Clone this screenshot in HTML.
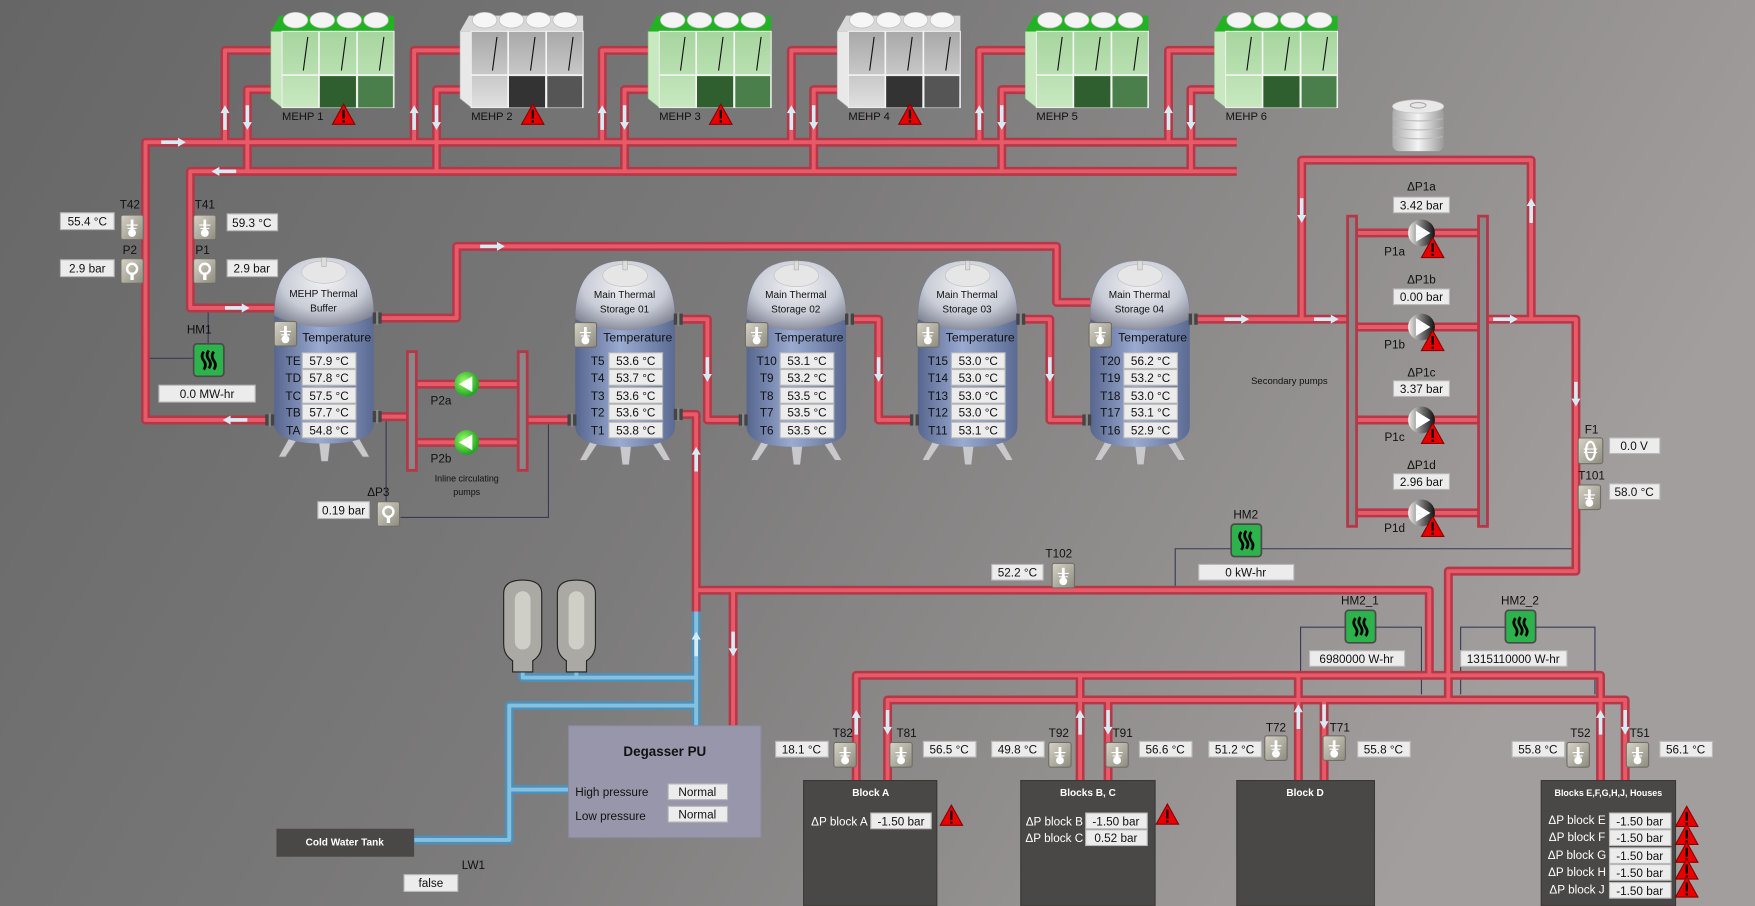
<!DOCTYPE html>
<html><head><meta charset="utf-8"><style>
html,body{margin:0;padding:0;width:1755px;height:906px;overflow:hidden;background:#7a7a7a}
svg{display:block}
text{font-family:"Liberation Sans Narrow","Liberation Sans",sans-serif;font-size:10.5px;fill:#111}
.v{fill:#ececec;stroke:#b8b8b8;stroke-width:1}
.c{text-anchor:middle}
.w{fill:#fff;font-weight:bold;font-size:9px}
</style></head><body>
<svg width="1755" height="906" viewBox="0 0 1568 809" preserveAspectRatio="none" xmlns="http://www.w3.org/2000/svg">
<defs>
<linearGradient id="bg" x1="0" x2="1" y1="0" y2="0.3"><stop offset="0" stop-color="#666"/><stop offset="0.5" stop-color="#7c7b7b"/><stop offset="1" stop-color="#a29e9d"/></linearGradient>
<linearGradient id="tb" x1="0" x2="1"><stop offset="0" stop-color="#56668e"/><stop offset="0.45" stop-color="#9aaad0"/><stop offset="1" stop-color="#5a6a92"/></linearGradient>
<radialGradient id="dome" cx="0.5" cy="0.35" r="0.7"><stop offset="0" stop-color="#f2f2f4"/><stop offset="0.6" stop-color="#c8ccd6"/><stop offset="1" stop-color="#7d8090"/></radialGradient>
<linearGradient id="beige" x1="0" y1="0" x2="1" y2="1"><stop offset="0" stop-color="#d6d3c6"/><stop offset="1" stop-color="#8d8a7f"/></linearGradient>
<radialGradient id="gp" cx="0.4" cy="0.4" r="0.6"><stop offset="0" stop-color="#9dff6a"/><stop offset="1" stop-color="#1fa51f"/></radialGradient>
<linearGradient id="kp" x1="0" x2="1"><stop offset="0" stop-color="#eee"/><stop offset="0.5" stop-color="#777"/><stop offset="1" stop-color="#111"/></linearGradient>
<linearGradient id="gbody" x1="0" x2="0" y1="0" y2="1"><stop offset="0" stop-color="#a6d59e"/><stop offset="1" stop-color="#c8e8c0"/></linearGradient>
<linearGradient id="wbody" x1="0" x2="0" y1="0" y2="1"><stop offset="0" stop-color="#a8a8a8"/><stop offset="1" stop-color="#e0e0e0"/></linearGradient>
<linearGradient id="exp" x1="0" x2="1"><stop offset="0" stop-color="#aaa"/><stop offset="0.5" stop-color="#f4f4f4"/><stop offset="1" stop-color="#999"/></linearGradient>

<symbol id="ti" overflow="visible"><rect x="0" y="0" width="20" height="22" rx="2" fill="url(#beige)" stroke="#6f6d66"/><line x1="10" y1="4" x2="10" y2="15" stroke="#fff" stroke-width="2.5"/><circle cx="10" cy="16" r="3.5" fill="#fff"/><path d="M5,9 H15 M6,12 H14" stroke="#fff" stroke-width="1"/></symbol>
<symbol id="pi" overflow="visible"><rect x="0" y="0" width="20" height="22" rx="2" fill="url(#beige)" stroke="#6f6d66"/><circle cx="10" cy="9" r="4.5" fill="none" stroke="#fff" stroke-width="2.2"/><rect x="8.5" y="13" width="3" height="6" fill="#fff"/></symbol>
<symbol id="fi" overflow="visible"><rect x="0" y="0" width="22" height="23" rx="2" fill="url(#beige)" stroke="#6f6d66"/><ellipse cx="11" cy="11.5" rx="4" ry="8" fill="none" stroke="#fff" stroke-width="2"/><path d="M5,10 H17 M5,13 H17" stroke="#fff"/></symbol>
<symbol id="hm" overflow="visible"><rect x="0" y="0" width="27" height="29" rx="3" fill="#2db34c" stroke="#4a4a4a" stroke-width="1.5"/><path d="M9,7 q-3,4 0,8 q3,4 0,8 M13.5,6 q-3,4 0,8 q3,4 0,8 M18,7 q-3,4 0,8 q3,4 0,8" stroke="#000" stroke-width="2.4" fill="none"/></symbol>
<symbol id="wn" overflow="visible"><polygon points="0,18 10,0 20,18" fill="#e80000" stroke="#8a0000"/><rect x="9" y="5" width="2" height="8" fill="#000"/><rect x="9" y="14.5" width="2" height="2" fill="#000"/></symbol>
<symbol id="ar" overflow="visible"><path d="M-11,-1.6 H4 V-4 L11,0 L4,4 V1.6 H-11 Z" fill="#d6ecf5"/></symbol>
<symbol id="pg" overflow="visible"><circle r="11" fill="url(#gp)"/><polygon points="-7,0 5,-7 5,7" fill="#fff"/></symbol>
<symbol id="pk" overflow="visible"><circle r="12" fill="url(#kp)"/><polygon points="8,0 -5,-8 -5,8" fill="#fff"/></symbol>
<symbol id="tank" overflow="visible">
<path d="M14,160 L4,178 L10,178 L22,160 Z M75,160 L85,178 L79,178 L67,160 Z M40,165 L42,182 L48,182 L50,165 Z" fill="#c9c9cc" stroke="#888" stroke-width="0.5"/>
<path d="M0,50 Q0,0 44.5,0 Q89,0 89,50 V148 Q89,166 44.5,166 Q0,166 0,148 Z" fill="url(#tb)"/>
<path d="M0,52 Q0,0 44.5,0 Q89,0 89,52 Q44.5,72 0,52 Z" fill="url(#dome)"/>
<ellipse cx="44.5" cy="13" rx="20" ry="10" fill="#e6e6e6" stroke="#bbb" stroke-width="0.5"/>
<rect x="42.5" y="0" width="4" height="8" fill="#ddd" stroke="#aaa" stroke-width="0.5"/>
</symbol>
<symbol id="noz" overflow="visible"><rect x="-4" y="-5" width="8" height="10" fill="#444"/><rect x="-1" y="-6" width="2" height="12" fill="#888"/></symbol>

<g id="pipes" fill="none" stroke-linejoin="round">
<path d="M1105,127 H130 V375 H240"/>
<path d="M1105,153 H170 V275 H245"/>
<path d="M201,127 V45 H245 M221,153 V80 H245"/>
<path d="M370,127 V45 H414 M390,153 V80 H414"/>
<path d="M538,127 V45 H582 M558,153 V80 H582"/>
<path d="M707,127 V45 H751 M727,153 V80 H751"/>
<path d="M875,127 V45 H919 M895,153 V80 H919"/>
<path d="M1044,127 V45 H1088 M1064,153 V80 H1088"/>
<path d="M336,284 H408 V220 H944 V270 H974"/>
<path d="M606,285 H632 V375 H664 M759,285 H785 V375 H817 M912,285 H938 V375 H971"/>
<path d="M1066,285 H1204 M1163,285 V143 H1368 V285 M1329,285 H1408 V510 H1294 V625"/>
<path d="M1212,208 H1321 M1212,292 H1321 M1212,375 H1321 M1212,458 H1321"/>
<path d="M336,372 H364 M372,343 H463 M372,395 H463 M471,375 H511"/>
<path d="M606,370 H622 V527 H1277 V603"/>
<path d="M765,697 V603 H1430 V697 M965,603 V697 M1160,603 V697"/>
<path d="M793,697 V625 H1452 V697 M990,625 V697 M1183,625 V697"/>
<path d="M622,527 V546 M655,527 V648"/>
</g>
<g id="bpipes" fill="none" stroke-linejoin="round">
<path d="M622,546 V648"/>
<path d="M467,598 V605 H622 M515,598 V605"/>
<path d="M622,630 H455 V750 H370 M455,705 H508"/>
</g>
<symbol id="mehp" overflow="visible">
<polygon points="0,20 10,20 10,88 0,80" fill="#c8e8c0" stroke="#7fbf7a" stroke-width="0.5"/>
<polygon points="0,20 8,6 110,6 110,20" fill="#21b321"/>
<g fill="#f4f4f4" stroke="#bbb" stroke-width="0.6"><ellipse cx="22" cy="10" rx="11" ry="7"/><ellipse cx="46" cy="10" rx="11" ry="7"/><ellipse cx="70" cy="10" rx="11" ry="7"/><ellipse cx="94" cy="10" rx="11" ry="7"/></g>
<rect x="10" y="20" width="100" height="68" fill="url(#gbody)" stroke="#eee"/>
<rect x="43" y="60" width="33" height="28" fill="#2f5e2f"/><rect x="78" y="60" width="31" height="28" fill="#4a7e4a"/>
<path d="M43,20 V88 M77,20 V88 M10,59 H110" stroke="#f4f4f4" stroke-width="1.5"/>
<path d="M33,25 L29,55 M67,25 L63,55 M101,25 L97,55" stroke="#111" stroke-width="1"/>
</symbol>
<symbol id="mehpg" overflow="visible">
<polygon points="0,20 10,20 10,88 0,80" fill="#e8e8e8" stroke="#aaa" stroke-width="0.5"/>
<polygon points="0,20 8,6 110,6 110,20" fill="#d8d8d8"/>
<g fill="#f6f6f6" stroke="#bbb" stroke-width="0.6"><ellipse cx="22" cy="10" rx="11" ry="7"/><ellipse cx="46" cy="10" rx="11" ry="7"/><ellipse cx="70" cy="10" rx="11" ry="7"/><ellipse cx="94" cy="10" rx="11" ry="7"/></g>
<rect x="10" y="20" width="100" height="68" fill="url(#wbody)" stroke="#eee"/>
<rect x="43" y="60" width="33" height="28" fill="#333"/><rect x="78" y="60" width="31" height="28" fill="#555"/>
<path d="M43,20 V88 M77,20 V88 M10,59 H110" stroke="#f4f4f4" stroke-width="1.5"/>
<path d="M33,25 L29,55 M67,25 L63,55 M101,25 L97,55" stroke="#111" stroke-width="1"/>
</symbol>
</defs>

<rect width="1568" height="809" fill="url(#bg)"/>

<g stroke="#3a3a55" stroke-width="1" fill="none">
<path d="M130,320 H173 M186,275 V307"/>
<path d="M345,375 V448 M358,462 H490 V375"/>
<path d="M1050,527 V490 H1100 M1127,490 H1408"/>
<path d="M1162,620 V560 H1202 M1229,560 H1270 V620"/>
<path d="M1305,620 V560 H1345 M1372,560 H1425 V620"/>
</g>

<use href="#pipes" stroke="#b43848" stroke-width="8"/>
<use href="#pipes" stroke="#e95a69" stroke-width="3.5"/>
<use href="#bpipes" stroke="#4f8fb8" stroke-width="8"/>
<use href="#bpipes" stroke="#84c0e0" stroke-width="3.5"/>
<g fill="#888" stroke="#b43848" stroke-width="2.5">
<rect x="1204" y="193" width="8" height="277"/><rect x="1321" y="193" width="8" height="277"/>
<rect x="364" y="314" width="8" height="106"/><rect x="463" y="314" width="8" height="106"/>
</g>

<g>
<use href="#ar" transform="translate(155,127)"/>
<use href="#ar" transform="translate(200,153) rotate(180)"/>
<use href="#ar" transform="translate(212,275)"/>
<use href="#ar" transform="translate(210,375) rotate(180)"/>
<use href="#ar" transform="translate(201,105) rotate(-90)"/><use href="#ar" transform="translate(221,105) rotate(90)"/>
<use href="#ar" transform="translate(370,105) rotate(-90)"/><use href="#ar" transform="translate(390,105) rotate(90)"/>
<use href="#ar" transform="translate(538,105) rotate(-90)"/><use href="#ar" transform="translate(558,105) rotate(90)"/>
<use href="#ar" transform="translate(707,105) rotate(-90)"/><use href="#ar" transform="translate(727,105) rotate(90)"/>
<use href="#ar" transform="translate(875,105) rotate(-90)"/><use href="#ar" transform="translate(895,105) rotate(90)"/>
<use href="#ar" transform="translate(1044,105) rotate(-90)"/><use href="#ar" transform="translate(1064,105) rotate(90)"/>
<use href="#ar" transform="translate(440,220)"/>
<use href="#ar" transform="translate(632,330) rotate(90)"/><use href="#ar" transform="translate(785,330) rotate(90)"/><use href="#ar" transform="translate(938,330) rotate(90)"/>
<use href="#ar" transform="translate(1105,285)"/><use href="#ar" transform="translate(1185,285)"/><use href="#ar" transform="translate(1345,285)"/>
<use href="#ar" transform="translate(1163,188) rotate(90)"/><use href="#ar" transform="translate(1368,188) rotate(-90)"/>
<use href="#ar" transform="translate(1408,352) rotate(90)"/>
<use href="#ar" transform="translate(622,410) rotate(-90)"/>
<use href="#ar" transform="translate(622,575) rotate(-90)"/>
<use href="#ar" transform="translate(655,575) rotate(90)"/>
<use href="#ar" transform="translate(765,645) rotate(-90)"/><use href="#ar" transform="translate(793,645) rotate(90)"/>
<use href="#ar" transform="translate(965,645) rotate(-90)"/><use href="#ar" transform="translate(990,645) rotate(90)"/>
<use href="#ar" transform="translate(1160,640) rotate(-90)"/><use href="#ar" transform="translate(1183,640) rotate(90)"/>
<use href="#ar" transform="translate(1430,645) rotate(-90)"/><use href="#ar" transform="translate(1452,645) rotate(90)"/>
</g>

<use href="#mehp" x="242" y="8"/>
<use href="#mehpg" x="411" y="8"/>
<use href="#mehp" x="579" y="8"/>
<use href="#mehpg" x="748" y="8"/>
<use href="#mehp" x="916" y="8"/>
<use href="#mehp" x="1085" y="8"/>
<g style="font-size:10px">
<text x="252" y="107" style="font-size:10px">MEHP 1</text><use href="#wn" x="297" y="93"/>
<text x="421" y="107" style="font-size:10px">MEHP 2</text><use href="#wn" x="466" y="93"/>
<text x="589" y="107" style="font-size:10px">MEHP 3</text><use href="#wn" x="634" y="93"/>
<text x="758" y="107" style="font-size:10px">MEHP 4</text><use href="#wn" x="803" y="93"/>
<text x="926" y="107" style="font-size:10px">MEHP 5</text>
<text x="1095" y="107" style="font-size:10px">MEHP 6</text>
</g>

<rect x="1244" y="95" width="46" height="40" rx="6" fill="url(#exp)"/>
<ellipse cx="1267" cy="95" rx="23" ry="6" fill="#e8e8e8" stroke="#bbb" stroke-width="0.5"/>
<ellipse cx="1267" cy="94" rx="7" ry="2.5" fill="none" stroke="#aaa"/>
<path d="M1245,106 Q1267,110 1289,106 M1245,114 Q1267,118 1289,114 M1245,122 Q1267,126 1289,122" stroke="#bbb" fill="none"/>

<text x="116" y="186" class="c">T42</text><use href="#ti" x="108" y="192"/>
<rect x="54" y="190" width="48" height="15" class="v"/><text x="78" y="201.5" class="c">55.4 °C</text>
<text x="116" y="227" class="c">P2</text><use href="#pi" x="108" y="231"/>
<rect x="54" y="232" width="48" height="15" class="v"/><text x="78" y="243.5" class="c">2.9 bar</text>
<text x="183" y="186" class="c">T41</text><use href="#ti" x="173" y="192"/>
<rect x="203" y="191" width="45" height="15" class="v"/><text x="225" y="202.5" class="c">59.3 °C</text>
<text x="181" y="227" class="c">P1</text><use href="#pi" x="173" y="231"/>
<rect x="203" y="232" width="45" height="15" class="v"/><text x="225" y="243.5" class="c">2.9 bar</text>
<text x="178" y="298" class="c">HM1</text><use href="#hm" x="173" y="307"/>
<rect x="142" y="344" width="86" height="15" class="v"/><text x="185" y="355.5" class="c">0.0 MW-hr</text>

<use href="#tank" x="245" y="230"/>
<use href="#tank" x="514" y="233"/>
<use href="#tank" x="667" y="233"/>
<use href="#tank" x="820" y="233"/>
<use href="#tank" x="974" y="233"/>
<use href="#noz" x="337" y="284"/><use href="#noz" x="241" y="375"/><use href="#noz" x="337" y="372"/>
<use href="#noz" x="606" y="285"/><use href="#noz" x="511" y="375"/><use href="#noz" x="606" y="370"/>
<use href="#noz" x="759" y="285"/><use href="#noz" x="664" y="375"/>
<use href="#noz" x="912" y="285"/><use href="#noz" x="817" y="375"/>
<use href="#noz" x="1066" y="285"/><use href="#noz" x="971" y="375"/>

<g>
<text x="289" y="265" class="c" style="font-size:9px">MEHP Thermal</text><text x="289" y="278" class="c" style="font-size:9px">Buffer</text>
<text x="558" y="266" class="c" style="font-size:9px">Main Thermal</text><text x="558" y="279" class="c" style="font-size:9px">Storage 01</text>
<text x="711" y="266" class="c" style="font-size:9px">Main Thermal</text><text x="711" y="279" class="c" style="font-size:9px">Storage 02</text>
<text x="864" y="266" class="c" style="font-size:9px">Main Thermal</text><text x="864" y="279" class="c" style="font-size:9px">Storage 03</text>
<text x="1018" y="266" class="c" style="font-size:9px">Main Thermal</text><text x="1018" y="279" class="c" style="font-size:9px">Storage 04</text>
</g>

<g>
<use href="#ti" x="245" y="287"/><text x="270" y="305" style="font-size:11px">Temperature</text>
<use href="#ti" x="513" y="288"/><text x="539" y="305" style="font-size:11px">Temperature</text>
<use href="#ti" x="666" y="288"/><text x="692" y="305" style="font-size:11px">Temperature</text>
<use href="#ti" x="819" y="288"/><text x="845" y="305" style="font-size:11px">Temperature</text>
<use href="#ti" x="973" y="288"/><text x="999" y="305" style="font-size:11px">Temperature</text>
</g>
<g>
<rect x="270" y="315" width="48" height="14" class="v"/><rect x="270" y="330" width="48" height="14" class="v"/><rect x="270" y="346" width="48" height="14" class="v"/><rect x="270" y="361" width="48" height="14" class="v"/><rect x="270" y="377" width="48" height="14" class="v"/>
<text x="262" y="326" class="c">TE</text><text x="294" y="326" class="c">57.9 °C</text>
<text x="262" y="341" class="c">TD</text><text x="294" y="341" class="c">57.8 °C</text>
<text x="262" y="357" class="c">TC</text><text x="294" y="357" class="c">57.5 °C</text>
<text x="262" y="372" class="c">TB</text><text x="294" y="372" class="c">57.7 °C</text>
<text x="262" y="388" class="c">TA</text><text x="294" y="388" class="c">54.8 °C</text>

<rect x="544" y="315" width="48" height="14" class="v"/><rect x="544" y="330" width="48" height="14" class="v"/><rect x="544" y="346" width="48" height="14" class="v"/><rect x="544" y="361" width="48" height="14" class="v"/><rect x="544" y="377" width="48" height="14" class="v"/>
<text x="534" y="326" class="c">T5</text><text x="568" y="326" class="c">53.6 °C</text>
<text x="534" y="341" class="c">T4</text><text x="568" y="341" class="c">53.7 °C</text>
<text x="534" y="357" class="c">T3</text><text x="568" y="357" class="c">53.6 °C</text>
<text x="534" y="372" class="c">T2</text><text x="568" y="372" class="c">53.6 °C</text>
<text x="534" y="388" class="c">T1</text><text x="568" y="388" class="c">53.8 °C</text>

<rect x="697" y="315" width="48" height="14" class="v"/><rect x="697" y="330" width="48" height="14" class="v"/><rect x="697" y="346" width="48" height="14" class="v"/><rect x="697" y="361" width="48" height="14" class="v"/><rect x="697" y="377" width="48" height="14" class="v"/>
<text x="685" y="326" class="c">T10</text><text x="721" y="326" class="c">53.1 °C</text>
<text x="685" y="341" class="c">T9</text><text x="721" y="341" class="c">53.2 °C</text>
<text x="685" y="357" class="c">T8</text><text x="721" y="357" class="c">53.5 °C</text>
<text x="685" y="372" class="c">T7</text><text x="721" y="372" class="c">53.5 °C</text>
<text x="685" y="388" class="c">T6</text><text x="721" y="388" class="c">53.5 °C</text>

<rect x="850" y="315" width="48" height="14" class="v"/><rect x="850" y="330" width="48" height="14" class="v"/><rect x="850" y="346" width="48" height="14" class="v"/><rect x="850" y="361" width="48" height="14" class="v"/><rect x="850" y="377" width="48" height="14" class="v"/>
<text x="838" y="326" class="c">T15</text><text x="874" y="326" class="c">53.0 °C</text>
<text x="838" y="341" class="c">T14</text><text x="874" y="341" class="c">53.0 °C</text>
<text x="838" y="357" class="c">T13</text><text x="874" y="357" class="c">53.0 °C</text>
<text x="838" y="372" class="c">T12</text><text x="874" y="372" class="c">53.0 °C</text>
<text x="838" y="388" class="c">T11</text><text x="874" y="388" class="c">53.1 °C</text>

<rect x="1004" y="315" width="48" height="14" class="v"/><rect x="1004" y="330" width="48" height="14" class="v"/><rect x="1004" y="346" width="48" height="14" class="v"/><rect x="1004" y="361" width="48" height="14" class="v"/><rect x="1004" y="377" width="48" height="14" class="v"/>
<text x="992" y="326" class="c">T20</text><text x="1028" y="326" class="c">56.2 °C</text>
<text x="992" y="341" class="c">T19</text><text x="1028" y="341" class="c">53.2 °C</text>
<text x="992" y="357" class="c">T18</text><text x="1028" y="357" class="c">53.0 °C</text>
<text x="992" y="372" class="c">T17</text><text x="1028" y="372" class="c">53.1 °C</text>
<text x="992" y="388" class="c">T16</text><text x="1028" y="388" class="c">52.9 °C</text>
</g>

<use href="#pg" x="417" y="343"/><use href="#pg" x="417" y="395"/>
<text x="394" y="361" class="c">P2a</text><text x="394" y="413" class="c">P2b</text>
<text x="417" y="430" class="c" style="font-size:8px">Inline circulating</text><text x="417" y="442" class="c" style="font-size:8px">pumps</text>
<text x="338" y="443" class="c">ΔP3</text><use href="#pi" x="337" y="448"/>
<rect x="284" y="448" width="46" height="15" class="v"/><text x="307" y="459.5" class="c">0.19 bar</text>

<g>
<text x="1270" y="170" class="c">ΔP1a</text><rect x="1245" y="176" width="50" height="14" class="v"/><text x="1270" y="187" class="c">3.42 bar</text>
<text x="1270" y="253" class="c">ΔP1b</text><rect x="1245" y="258" width="50" height="14" class="v"/><text x="1270" y="269" class="c">0.00 bar</text>
<text x="1270" y="336" class="c">ΔP1c</text><rect x="1245" y="340" width="50" height="14" class="v"/><text x="1270" y="351" class="c">3.37 bar</text>
<text x="1270" y="419" class="c">ΔP1d</text><rect x="1245" y="423" width="50" height="14" class="v"/><text x="1270" y="434" class="c">2.96 bar</text>
<use href="#pk" x="1270" y="208"/><use href="#pk" x="1270" y="292"/><use href="#pk" x="1270" y="375"/><use href="#pk" x="1270" y="458"/>
<use href="#wn" x="1270" y="212"/><use href="#wn" x="1270" y="295"/><use href="#wn" x="1270" y="378"/><use href="#wn" x="1270" y="461"/>
<text x="1246" y="228" class="c">P1a</text><text x="1246" y="311" class="c">P1b</text><text x="1246" y="394" class="c">P1c</text><text x="1246" y="475" class="c">P1d</text>
<text x="1152" y="343" class="c" style="font-size:8.5px">Secondary pumps</text>
</g>

<text x="1422" y="387" class="c">F1</text><use href="#fi" x="1410" y="391"/>
<rect x="1438" y="391" width="45" height="14" class="v"/><text x="1460" y="402" class="c">0.0 V</text>
<text x="1422" y="428" class="c">T101</text><use href="#ti" x="1410" y="433"/>
<rect x="1438" y="432" width="45" height="14" class="v"/><text x="1460" y="443" class="c">58.0 °C</text>

<text x="1113" y="463" class="c">HM2</text><use href="#hm" x="1100" y="468"/>
<rect x="1071" y="504" width="85" height="14" class="v"/><text x="1113" y="515" class="c">0 kW-hr</text>
<text x="946" y="498" class="c">T102</text><use href="#ti" x="940" y="503"/>
<rect x="886" y="504" width="46" height="14" class="v"/><text x="909" y="515" class="c">52.2 °C</text>

<text x="1215" y="540" class="c">HM2_1</text><use href="#hm" x="1202" y="545"/>
<rect x="1170" y="581" width="85" height="14" class="v"/><text x="1212" y="592" class="c">6980000 W-hr</text>
<text x="1358" y="540" class="c">HM2_2</text><use href="#hm" x="1345" y="545"/>
<rect x="1305" y="581" width="95" height="14" class="v"/><text x="1352" y="592" class="c">1315110000 W-hr</text>

<g stroke="#222" stroke-width="1">
<path d="M458,600 L458,590 Q450,585 450,575 V530 Q450,518 467,518 Q484,518 484,530 V575 Q484,585 476,590 L476,600 Z" fill="#aaa9a4"/>
<path d="M506,600 L506,590 Q498,585 498,575 V530 Q498,518 515,518 Q532,518 532,530 V575 Q532,585 524,590 L524,600 Z" fill="#aaa9a4"/>
</g>
<rect x="460" y="528" width="14" height="52" rx="7" fill="#cfcfc8"/>
<rect x="508" y="528" width="14" height="52" rx="7" fill="#cfcfc8"/>

<rect x="508" y="648" width="172" height="100" fill="#9896aa" stroke="#8a889c"/>
<text x="594" y="675" class="c" style="font-size:12px;font-weight:bold">Degasser PU</text>
<text x="514" y="711">High pressure</text><rect x="597" y="700" width="53" height="14" class="v"/><text x="623" y="711" class="c">Normal</text>
<text x="514" y="732">Low pressure</text><rect x="597" y="720" width="53" height="14" class="v"/><text x="623" y="731" class="c">Normal</text>
<rect x="247" y="740" width="123" height="25" fill="#4a4846"/>
<text x="308" y="755" class="c w">Cold Water Tank</text>
<text x="423" y="776" class="c">LW1</text>
<rect x="361" y="781" width="48" height="15" class="v"/><text x="385" y="792" class="c">false</text>

<g>
<text x="753" y="658" class="c">T82</text><use href="#ti" x="745" y="663"/><rect x="693" y="662" width="47" height="14" class="v"/><text x="716" y="673" class="c">18.1 °C</text>
<text x="810" y="658" class="c">T81</text><use href="#ti" x="795" y="663"/><rect x="825" y="662" width="47" height="14" class="v"/><text x="848" y="673" class="c">56.5 °C</text>
<text x="946" y="658" class="c">T92</text><use href="#ti" x="937" y="663"/><rect x="886" y="662" width="47" height="14" class="v"/><text x="909" y="673" class="c">49.8 °C</text>
<text x="1003" y="658" class="c">T91</text><use href="#ti" x="988" y="663"/><rect x="1018" y="662" width="47" height="14" class="v"/><text x="1041" y="673" class="c">56.6 °C</text>
<text x="1140" y="653" class="c">T72</text><use href="#ti" x="1130" y="657"/><rect x="1080" y="662" width="47" height="14" class="v"/><text x="1103" y="673" class="c">51.2 °C</text>
<text x="1197" y="653" class="c">T71</text><use href="#ti" x="1182" y="657"/><rect x="1213" y="662" width="47" height="14" class="v"/><text x="1236" y="673" class="c">55.8 °C</text>
<text x="1412" y="658" class="c">T52</text><use href="#ti" x="1400" y="663"/><rect x="1351" y="662" width="47" height="14" class="v"/><text x="1374" y="673" class="c">55.8 °C</text>
<text x="1465" y="658" class="c">T51</text><use href="#ti" x="1453" y="663"/><rect x="1483" y="662" width="47" height="14" class="v"/><text x="1506" y="673" class="c">56.1 °C</text>
</g>

<g fill="#4a4846" stroke="#3a3836">
<rect x="718" y="697" width="119" height="112"/>
<rect x="912" y="697" width="120" height="112"/>
<rect x="1105" y="697" width="123" height="112"/>
<rect x="1377" y="697" width="120" height="112"/>
</g>
<text x="778" y="711" class="c w">Block A</text>
<text x="750" y="737" class="c" style="fill:#fff">ΔP block A</text><rect x="778" y="726" width="54" height="14" class="v"/><text x="805" y="737" class="c">-1.50 bar</text>
<use href="#wn" x="840" y="719"/>
<text x="972" y="711" class="c w">Blocks B, C</text>
<text x="942" y="737" class="c" style="fill:#fff">ΔP block B</text><rect x="970" y="726" width="55" height="14" class="v"/><text x="997" y="737" class="c">-1.50 bar</text>
<text x="942" y="752" class="c" style="fill:#fff">ΔP block C</text><rect x="970" y="741" width="55" height="14" class="v"/><text x="997" y="752" class="c">0.52 bar</text>
<use href="#wn" x="1033" y="718"/>
<text x="1166" y="711" class="c w">Block D</text>
<text x="1437" y="711" class="c w" style="font-size:8px">Blocks E,F,G,H,J, Houses</text>
<g>
<text x="1409" y="736" class="c" style="fill:#fff">ΔP block E</text><rect x="1438" y="726" width="55" height="14" class="v"/><text x="1465" y="737" class="c">-1.50 bar</text>
<text x="1409" y="751" class="c" style="fill:#fff">ΔP block F</text><rect x="1438" y="741" width="55" height="14" class="v"/><text x="1465" y="752" class="c">-1.50 bar</text>
<text x="1409" y="767" class="c" style="fill:#fff">ΔP block G</text><rect x="1438" y="757" width="55" height="14" class="v"/><text x="1465" y="768" class="c">-1.50 bar</text>
<text x="1409" y="782" class="c" style="fill:#fff">ΔP block H</text><rect x="1438" y="772" width="55" height="14" class="v"/><text x="1465" y="783" class="c">-1.50 bar</text>
<text x="1409" y="798" class="c" style="fill:#fff">ΔP block J</text><rect x="1438" y="788" width="55" height="14" class="v"/><text x="1465" y="799" class="c">-1.50 bar</text>
<use href="#wn" x="1497" y="720"/><use href="#wn" x="1497" y="736"/><use href="#wn" x="1497" y="752"/><use href="#wn" x="1497" y="767"/><use href="#wn" x="1497" y="783"/>
</g>
</svg>
</body></html>
